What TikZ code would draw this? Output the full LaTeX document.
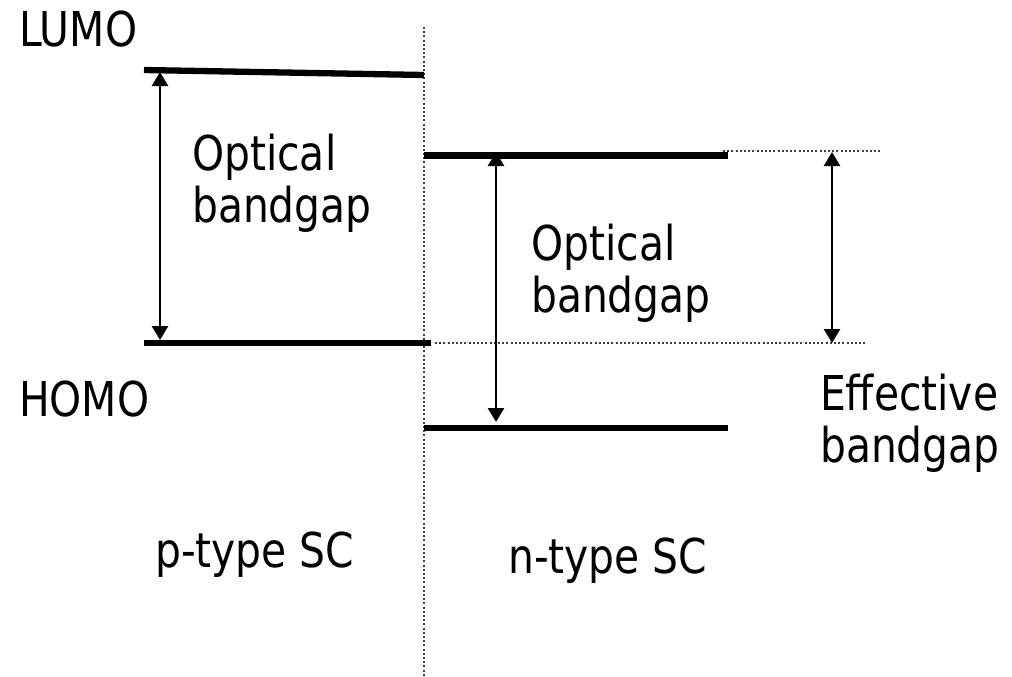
\documentclass[tikz,border=0pt]{standalone}
\usepackage{fontspec}
\setmainfont{DejaVu Sans}[FakeStretch=0.85]
\usetikzlibrary{arrows.meta}
\begin{document}
\begin{tikzpicture}[x=1pt,y=-1pt,
  level/.style={line width=6.3pt},
  guide/.style={line width=2pt, dash pattern=on 2pt off 2.2pt, black!75},
  gaparrow/.style={line width=2.6pt, {Triangle[length=14pt,width=16pt]}-{Triangle[length=14pt,width=16pt]}},
  lbl/.style={inner sep=0pt, anchor=base west, font=\fontsize{48}{52}\selectfont, align=left}]
\useasboundingbox (0,0) rectangle (1012,677);
% coordinates
\coordinate (vT) at (424,27);  \coordinate (vB) at (424,677);
\coordinate (pL1) at (144,70);  \coordinate (pL2) at (424,75);
\coordinate (pH1) at (144,343); \coordinate (pH2) at (431,343);
\coordinate (nL1) at (424,155.5); \coordinate (nL2) at (728,155.5);
\coordinate (nH1) at (424,428); \coordinate (nH2) at (728,428);
\coordinate (dH1) at (435,343); \coordinate (dH2) at (865,343);
\coordinate (dL1) at (723,150.5); \coordinate (dL2) at (880,150.5);
\coordinate (a1t) at (160,72);  \coordinate (a1b) at (160,340);
\coordinate (a2t) at (496,152); \coordinate (a2b) at (496,422);
\coordinate (a3t) at (832,152); \coordinate (a3b) at (832,343);
% guides
\draw[guide] (vT) -- (vB);
\draw[guide] (dH1) -- (dH2);
\draw[guide] (dL1) -- (dL2);
% levels
\draw[level] (pL1) -- (pL2);
\draw[level] (pH1) -- (pH2);
\draw[level] (nL1) -- (nL2);
\draw[level] (nH1) -- (nH2);
% arrows
\draw[gaparrow] (a1t) -- (a1b);
\draw[gaparrow] (a2t) -- (a2b);
\draw[gaparrow] (a3t) -- (a3b);
% labels
\node[lbl] (lumo) at (19,47) {LUMO};
\node[lbl] (homo) at (19,416) {HOMO};
\node[lbl] (opt1) at (192,222) {Optical\\bandgap};
\node[lbl] (opt2) at (531,312) {Optical\\bandgap};
\node[lbl] (eff) at (820,462) {Effective\\bandgap};
\node[lbl] (ptype) at (155,567) {p-type SC};
\node[lbl] (ntype) at (508,573) {n-type SC};
\end{tikzpicture}
\end{document}
